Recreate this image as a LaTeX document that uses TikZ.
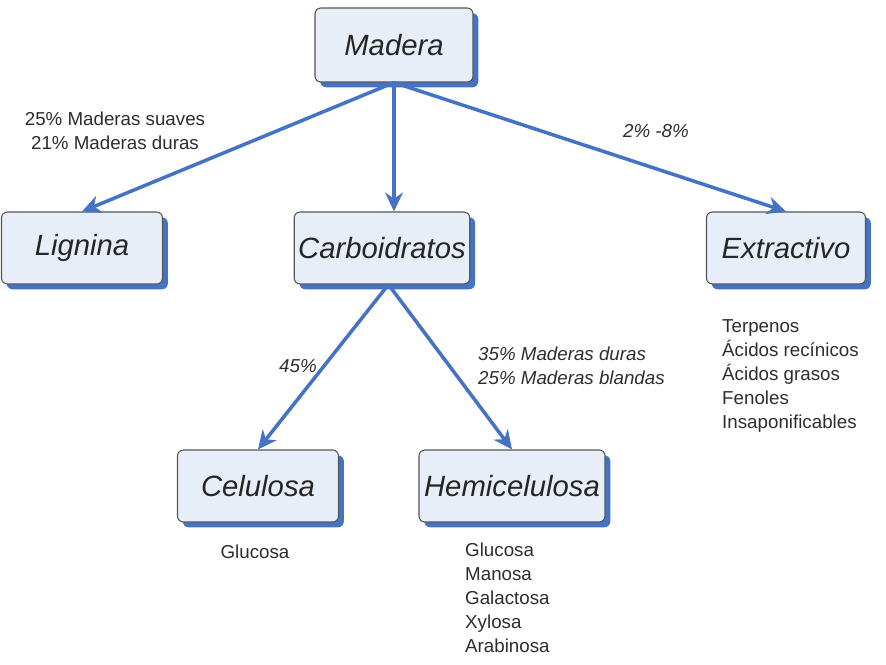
\documentclass[tikz,border=0pt]{standalone}
\usepackage{fontspec}
\setmainfont{Liberation Sans}
\usetikzlibrary{arrows.meta,shadows}

\definecolor{linkblue}{RGB}{68,114,196}
\definecolor{boxfill}{RGB}{232,238,248}
\definecolor{boxedge}{RGB}{85,85,85}
\definecolor{notetext}{RGB}{45,45,45}

\tikzset{
  box/.style={draw=boxedge, line width=0.9pt, fill=boxfill, rounded corners=5pt,
    minimum height=2.16cm, text=black!85, font=\fontsize{25}{30}\selectfont\itshape,
    drop shadow={shadow xshift=0.16cm, shadow yshift=-0.16cm, fill=linkblue, opacity=1}},
  link/.style={draw=linkblue, line width=3pt,
    -{Stealth[length=16pt, width=15pt, inset=5pt]}},
  note/.style={font=\fontsize{16}{20.4}\selectfont, text=notetext, inner sep=0pt},
  note it/.style={note, font=\fontsize{16}{20.4}\selectfont\itshape},
}

\begin{document}
\begin{tikzpicture}[x=0.03cm, y=-0.03cm]
  \useasboundingbox (0,0) rectangle (886,665);

  % boxes
  \node[box, minimum width=4.74cm, minimum height=2.22cm] (Madera) at (394,45) {Madera};
  \node[box, minimum width=4.83cm] (Lignina) at (82,248) {Lignina};
  \node[box, minimum width=5.1cm] (Carbo) at (382,248) {Carboidratos};
  \node[box, minimum width=4.77cm] (Extract) at (786,248) {Extractivo};
  \node[box, minimum width=4.83cm] (Celulosa) at (258,486) {Celulosa};
  \node[box, minimum width=5.58cm] (Hemi) at (512,486) {Hemicelulosa};

  % arrows
  \draw[link] (Madera.south) -- (Lignina.north);
  \draw[link] (Madera.south) -- (Madera.south |- Carbo.north);
  \draw[link] (Madera.south) -- (Extract.north);
  \draw[link] (Carbo.-80) -- (Celulosa.north);
  \draw[link] (Carbo.-80) -- (Hemi.north);

  % percentages
  \node[note, align=center] (LigPct) at (115,131) {25\% Maderas suaves\\21\% Maderas duras};
  \node[note it] (ExtPct) at (656,131) {2\% -8\%};
  \node[note it] (CelPct) at (298,366) {45\%};
  \node[note it, align=left, anchor=west] (HemiPct) at (478,366) {35\% Maderas duras\\25\% Maderas blandas};

  % contents
  \node[note, align=left, anchor=west] (ExtList) at (722,376)
    {Terpenos\\Ácidos recínicos\\Ácidos grasos\\Fenoles\\Insaponificables};
  \node[note] (CelList) at (255,552) {Glucosa};
  \node[note, align=left, anchor=west] (HemiList) at (465,598)
    {Glucosa\\Manosa\\Galactosa\\Xylosa\\Arabinosa};
\end{tikzpicture}
\end{document}
